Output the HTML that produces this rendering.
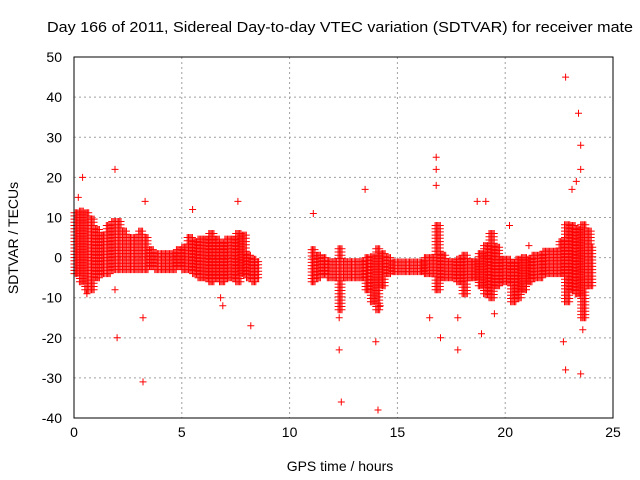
<!DOCTYPE html>
<html><head><meta charset="utf-8"><style>
body{margin:0;background:#fff;}
svg{display:block;font-family:"Liberation Sans",sans-serif;}
</style></head><body>
<svg id="chart" width="640" height="480">
<text x="47" y="32" font-size="15" textLength="586" lengthAdjust="spacingAndGlyphs">Day 166 of 2011, Sidereal Day-to-day VTEC variation (SDTVAR) for receiver mate</text>
<text x="340" y="471" font-size="14" text-anchor="middle">GPS time / hours</text>
<text x="18" y="238" font-size="14" text-anchor="middle" transform="rotate(-90 18 238)">SDTVAR / TECUs</text>
<g id="grid"></g><g id="ticks"></g><g id="marks"></g>
<rect x="74" y="57" width="539" height="361" fill="none" stroke="#000" stroke-width="1"/>
</svg>
<script>
const xTicks=[0,5,10,15,20,25];
const yTicks=[-40,-30,-20,-10,0,10,20,30,40,50];
const times=[0,0.25,0.5,0.75,1,1.25,1.5,1.75,2,2.25,2.5,2.75,3,3.25,3.5,3.75,4,4.25,4.5,4.75,5,5.25,5.5,5.75,6,6.25,6.5,6.75,7,7.25,7.5,7.75,8,8.25,8.5,
11,11.25,11.5,11.75,12,12.25,12.5,12.75,13,13.25,13.5,13.75,14,14.25,14.5,14.75,15,15.25,15.5,15.75,16,16.25,16.5,16.75,17,17.25,17.5,17.75,18,18.25,18.5,18.75,19,19.25,19.5,19.75,20,20.25,20.5,20.75,21,21.25,21.5,21.75,22,22.25,22.5,22.75,23,23.25,23.5,23.75,24];
const centers=[4,3,2,1,1,1,2,3,3,2,1,1,2,1,0,-1,-1,-1,-1,0,0,1,0,0,0,0,0,-1,0,0,0,1,-2,-3,-3,
-2,-2,-2,-3,-3,-5,-3,-3,-3,-3,-4,-5,-5,-3,-2,-2,-2,-2,-2,-2,-2,-2,-2,0,-2,-3,-3,-3,-4,-3,-3,-3,-3,-2,-2,-3,-3,-6,-5,-4,-3,-2,-2,-1,-1,-1,0,-1,0,-1,-3,0,-2];
const spreads=[8,9,10,9,6,5,6,6,6,5,4,4,5,4,2,2,2,2,2,2,3,4,4,5,5,6,5,5,5,5,6,5,3,3,2,
4,3,2,2,2,8,2,2,2,2,4,6,8,4,2,1.5,1.5,1.5,1.5,1.5,1.5,2,2,8,3,2,2,3,5,2,2,4,6,8,5,3,3,5,5,4,3,3,3,3,3,3,4,10,8,8,12,7,5];
const outT=[0.4,1.9,1.9,2.0,3.2,3.2,3.3,5.5,7.6,8.2,11.1,12.3,12.4,13.5,14.0,14.1,16.8,16.8,16.8,17.0,16.5,17.8,17.8,18.7,19.1,20.2,21.1,22.8,22.8,22.7,23.4,23.5,23.5,23.5,23.6,23.1,23.3,6.8,6.9,19.5,18.9,0.2,0.6,12.3,14.2];
const outV=[20,22,-8,-20,-31,-15,14,12,14,-17,11,-23,-36,17,-21,-38,25,22,18,-20,-15,-23,-15,14,14,8,3,45,-28,-21,36,28,22,-29,-18,17,19,-10,-12,-14,-19,15,-9,-15,-12];
const X=v=>74+v*539/25, Y=v=>257.6-v*4.011;
const NS="http://www.w3.org/2000/svg";
const grid=document.getElementById('grid'),ticks=document.getElementById('ticks'),marks=document.getElementById('marks');
function mk(tag,a,p){const e=document.createElementNS(NS,tag);for(const k in a)e.setAttribute(k,a[k]);p.appendChild(e);return e;}
xTicks.forEach(t=>{
 if(t>0&&t<25){const g=mk('line',{x1:X(t),x2:X(t),y1:57,y2:418,stroke:'#a0a0a0','stroke-dasharray':'2,3'},grid);
 
 }
 const l=mk('text',{x:X(t),y:437,'font-size':14,'text-anchor':'middle'},ticks);l.textContent=t;
 
 
});
yTicks.forEach(t=>{
 if(t>-40&&t<50){const g=mk('line',{x1:74,x2:613,y1:Y(t),y2:Y(t),stroke:'#a0a0a0','stroke-dasharray':'2,3'},grid);
 
 }
 const l=mk('text',{x:62,y:Y(t)+5,'font-size':14,'text-anchor':'end'},ticks);l.textContent=t;
 
 
});
let d='';
function plus(t,v){const x=X(t),y=Y(v);d+=`M${(x-3.5).toFixed(1)} ${y.toFixed(1)}h7M${x.toFixed(1)} ${(y-3.5).toFixed(1)}v7`;}
for(let i=0;i<times.length;i++){
 const nxt=(i+1<times.length&&times[i+1]-times[i]<0.3)?times[i+1]:times[i]+0.1;
 for(let t=times[i];t<nxt-0.01;t+=0.06){
  for(let v=centers[i]-spreads[i];v<=centers[i]+spreads[i];v+=0.8)plus(t,v);
 }
}
for(let i=0;i<outT.length;i++)plus(outT[i],outV[i]);
const p=mk('path',{d:d,stroke:'#ff0000','stroke-width':1,fill:'none'},marks);


</script>
</body></html>
